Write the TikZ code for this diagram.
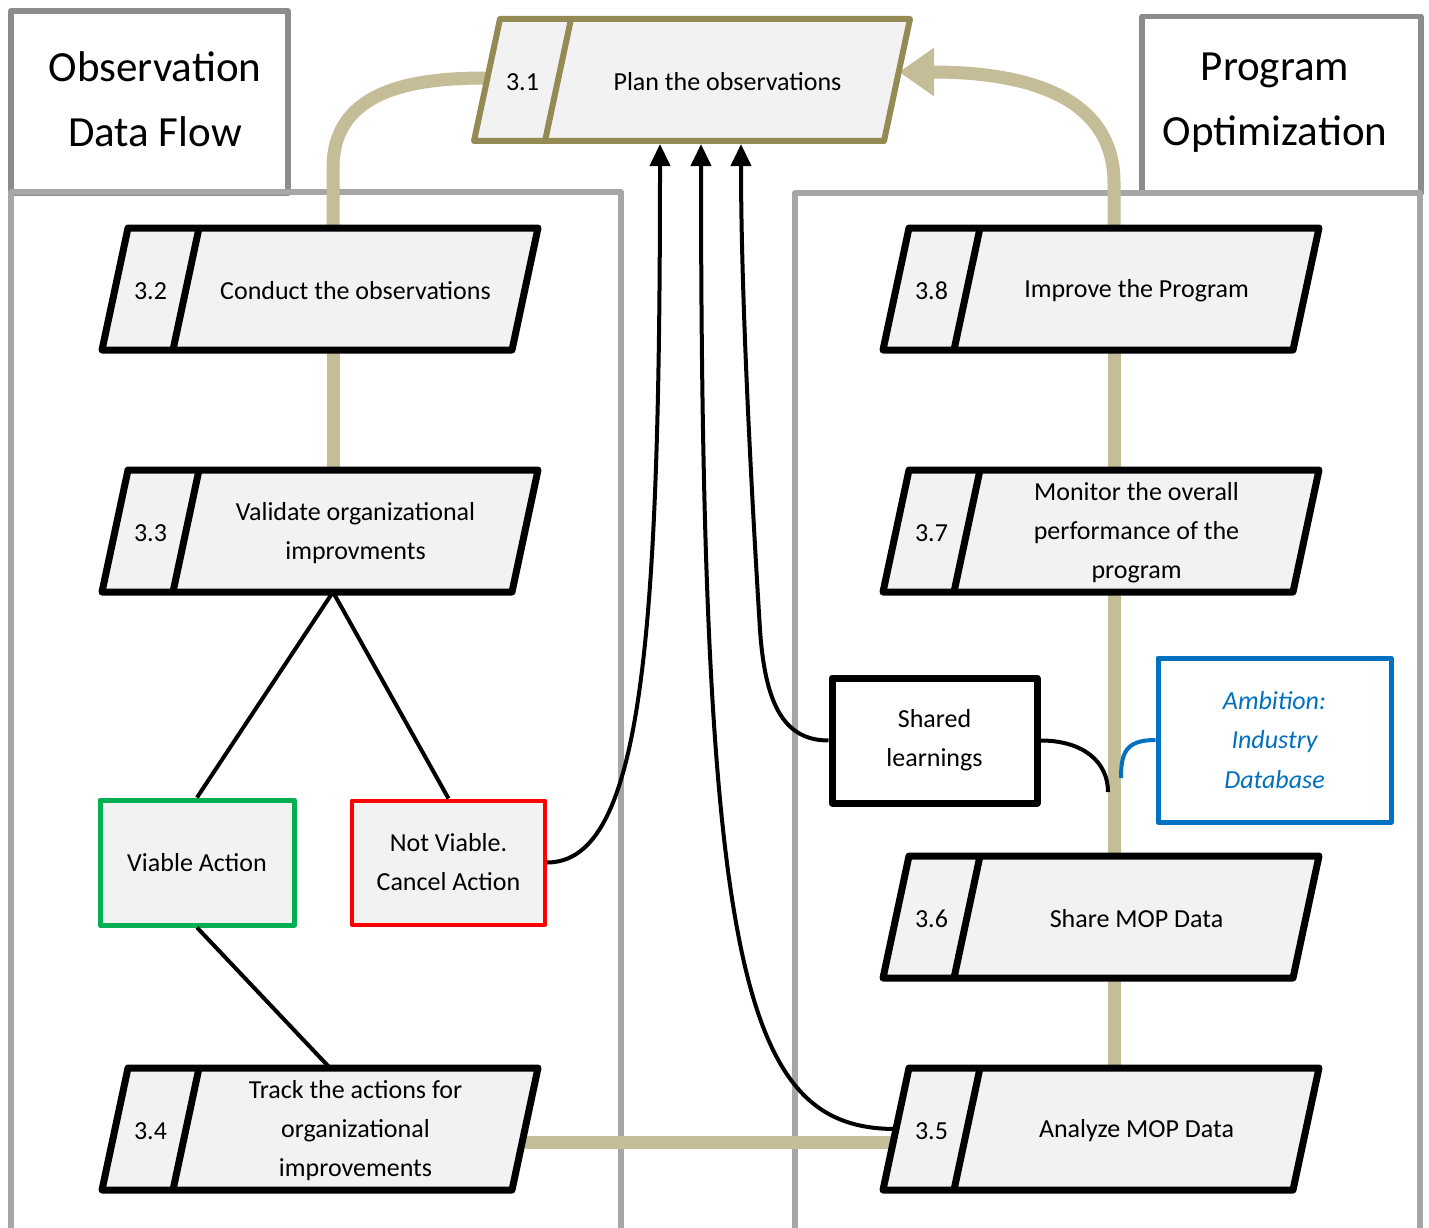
\documentclass[tikz,border=0pt]{standalone}
\usepackage{fontspec}
\setmainfont{Carlito}
\usetikzlibrary{arrows.meta,calc}
\pgfdeclarelayer{back}
\pgfdeclarelayer{bg}
\pgfsetlayers{back,bg,main}

\definecolor{boxfill}{HTML}{F2F2F2}
\definecolor{ccolive}{HTML}{948A54}
\definecolor{cctan}{HTML}{C4BD97}
\definecolor{lanegray}{HTML}{A6A6A6}
\definecolor{titlegray}{HTML}{8C8C8C}
\definecolor{ambblue}{HTML}{0070C0}
\definecolor{okgreen}{HTML}{00B050}
\definecolor{nored}{HTML}{FF0000}

\tikzset{
 boxshape/.style={minimum width=410pt, minimum height=122pt, inner sep=0pt, outer sep=0pt},
 boxtext/.style={font=\fontsize{26}{39}\selectfont, align=center, inner sep=0pt},
 numtext/.style={font=\fontsize{26}{39}\selectfont, inner sep=0pt},
 titletext/.style={font=\fontsize{43}{65}\selectfont, align=center, inner sep=0pt},
 lane/.style={draw=lanegray, line width=5.5pt, line join=round},
 titlebox/.style={draw=titlegray, fill=white, line width=5.5pt, line join=round, inner sep=0pt},
 tanline/.style={draw=cctan, line width=13pt},
 blackline/.style={draw=black, line width=4pt},
 upar/.style={-{Triangle[length=22pt,width=20pt]}, shorten >=3pt},
 blackproc/.style={draw=black, line width=7pt},
 oliveproc/.style={draw=ccolive, line width=6pt},
 smallbox/.style={font=\fontsize{26}{39}\selectfont, align=center, inner sep=0pt, line join=round},
}

% #1 name, #2 bottom-left x, #3 top y, #4 number, #5 text, #6 outline style
\newcommand\procbox[6]{%
  \path[#6, fill=boxfill, line join=round]
    (#2+26,#3) -- (#2+436,#3) -- (#2+410,#3+122) -- (#2,#3+122) -- cycle;
  \draw[#6] (#2+97,#3) -- (#2+71,#3+122);
  \node[boxshape] (#1) at (#2+218,#3+61) {};
  \node[numtext] (#1-n) at (#2+48.5,#3+63) {#4};
  \node[boxtext] (#1-t) at (#2+253.5,#3+63) {#5};
}

\begin{document}
\begin{tikzpicture}[x=1pt,y=-1pt]
\useasboundingbox (0,0) rectangle (1429,1228);

\begin{pgfonlayer}{back}
  \fill[white] (0,0) rectangle (1429,1228);
  \node[titlebox, minimum width=277pt, minimum height=182pt] (tbox1) at (149.5,102) {};
  \node[titlebox, minimum width=279pt, minimum height=177pt] (tbox2) at (1281.5,105) {};
  \draw[lane] (11,1240) -- (11,192) -- (621,192) -- (621,1240);
  \draw[lane] (795,1240) -- (795,193) -- (1420,193) -- (1420,1240);
\end{pgfonlayer}

\node[titletext] (ttl1) at (155,99) {Observation\\Data Flow};
\node[titletext] (ttl2) at (1275,103) {Program\\Optimization};

% process boxes
\procbox{n31}{474}{19}{3.1}{Plan the observations}{oliveproc}
\procbox{n32}{102}{228}{3.2}{Conduct the observations}{blackproc}
\procbox{n33}{102}{470}{3.3}{Validate organizational\\improvments}{blackproc}
\procbox{n34}{102}{1068}{3.4}{Track the actions for\\organizational\\improvements}{blackproc}
\procbox{n38}{883}{228}{3.8}{Improve the Program}{blackproc}
\procbox{n37}{883}{470}{3.7}{Monitor the overall\\performance of the\\program}{blackproc}
\procbox{n36}{883}{856}{3.6}{Share MOP Data}{blackproc}
\procbox{n35}{883}{1068}{3.5}{Analyze MOP Data}{blackproc}

% other boxes
\node[smallbox, draw=okgreen, fill=boxfill, line width=5pt, minimum width=194pt, minimum height=125pt] (viable) at (197,862.5) {Viable Action};
\node[smallbox, draw=nored, fill=boxfill, line width=4pt, minimum width=193pt, minimum height=124pt] (notviable) at (448.5,862.5) {Not Viable.\\Cancel Action};
\node[smallbox, draw=black, fill=white, line width=7pt, minimum width=205pt, minimum height=125pt] (shared) at (934.5,740.5) {Shared\\learnings};
\node[smallbox, draw=ambblue, fill=white, line width=5pt, minimum width=233pt, minimum height=164pt, text=ambblue, font=\fontsize{26}{39.5}\selectfont\itshape] (ambition) at (1274.5,740) {Ambition:\\Industry\\Database};

% tan flow connectors
\begin{pgfonlayer}{bg}
  \draw[tanline] ([xshift=13pt]n32.south) -- ([xshift=13pt]n33.north);
  \draw[tanline] ([xshift=13pt]n32.north) -- ++(0,-60) .. controls +(0,-80) and +(-70,0) .. ([yshift=2pt]n31.west);
  \draw[tanline, -{Triangle[length=35pt,width=46pt]}] ([xshift=13pt]n38.north) -- ++(0,-45) .. controls +(0,-95) and +(110,0) .. ([yshift=8pt,xshift=2pt]n31.east);
  \draw[tanline] ([xshift=13pt]n38.south) -- ([xshift=13pt]n37.north);
  \draw[tanline] ([xshift=13pt]n37.south) -- ([xshift=13pt]n36.north);
  \draw[tanline] ([xshift=13pt]n36.south) -- ([xshift=13pt]n35.north);
  \draw[tanline] ([yshift=-13pt]n34.east) -- ([yshift=-13pt]n35.west);
\end{pgfonlayer}

% black connectors
\draw[blackline] ([xshift=13pt]n33.south) -- (viable.north);
\draw[blackline] ([xshift=13pt]n33.south) -- (notviable.north);
\draw[blackline] (viable.south) -- ([xshift=10pt]n34.north);

\draw[blackline, upar] (notviable.east) .. controls +(95,0) and +(0,500) .. ([xshift=-32pt]n31.south);
\draw[blackline, upar] (n35.west) .. controls +(-151,0) and +(0,839) .. ([xshift=9pt]n31.south);
\draw[blackline, upar] (shared.west) .. controls +(-47,0) and +(5,70) .. (760,630) .. controls +(-8,-130) and +(0,160) .. ([xshift=49pt]n31.south);

\coordinate (slend) at (1108,792);
\coordinate (ambend) at (1121,778);
\draw[blackline] (shared.east) .. controls +(43,0) and +(0,-30) .. (slend);
\draw[draw=ambblue, line width=4pt] (ambition.west) .. controls +(-30,0) and +(0,-25) .. (ambend);

\end{tikzpicture}
\end{document}
